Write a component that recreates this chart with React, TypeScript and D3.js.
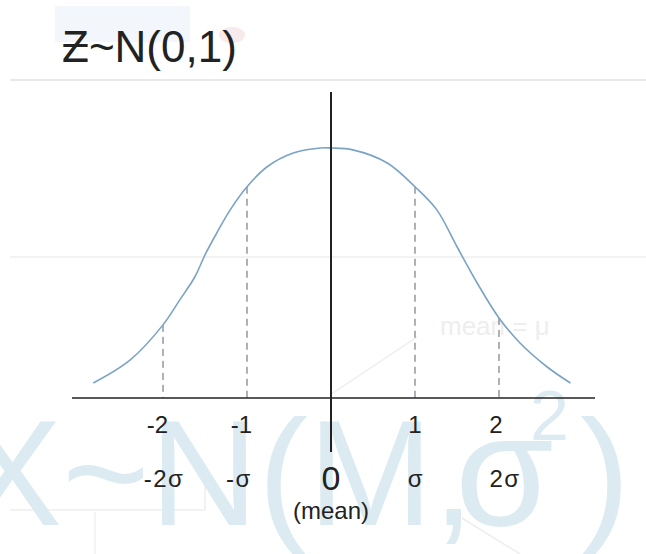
import React from "react";
import * as d3 from "d3";

// Standard normal curve: z positions and the curve height at each one
const CURVE_Z = [-2.83, -2.39, -2.0, -1.8, -1.62, -1.5, -1.36, -1.2, -1.0, -0.76, -0.45, -0.13, 0, 0.26, 0.67, 1.0, 1.26, 1.5, 1.74, 2.0, 2.25, 2.57, 2.85];
const CURVE_P = [0.024, 0.061, 0.117, 0.157, 0.194, 0.229, 0.264, 0.301, 0.338, 0.37, 0.392, 0.4, 0.4, 0.397, 0.376, 0.338, 0.301, 0.242, 0.184, 0.128, 0.088, 0.05, 0.024];

// Marked standard deviations
const TICKS = [-2, -1, 1, 2];
const TICK_LABELS = ["-2", "-1", "1", "2"];
const SIGMA_LABELS = ["-2σ", "-σ", "σ", "2σ"];
const CENTER_LABEL = "0";
const CENTER_NOTE = "(mean)";
const TITLE = "Ƶ~N(0,1)";

const W = 646;
const H = 554;
const FONT = "'Liberation Sans', Arial, Helvetica, sans-serif";

export default function App() {
  const x = d3.scaleLinear().domain([-2, 2]).range([163, 499]);
  const y = d3.scaleLinear().domain([0, 0.4]).range([398, 148]);

  const pts: [number, number][] = CURVE_Z.map((z, i) => [z, CURVE_P[i]]);
  const line = d3
    .line<[number, number]>()
    .x((d) => x(d[0]))
    .y((d) => y(d[1]))
    .curve(d3.curveCatmullRom.alpha(0.5));

  const x0 = x(0);
  const axisY = y(0);

  return (
    <svg
      width={W}
      height={H}
      viewBox={`0 0 ${W} ${H}`}
      style={{ position: "absolute", left: 0, top: 0, background: "#fff" }}
      fontFamily={FONT}
    >
      {/* faint slide backdrop */}
      <rect x={0} y={0} width={W} height={H} fill="#fff" />
      <rect x={55} y={6} width={135} height={36} fill="#f3f7fb" />
      <ellipse cx={232} cy={35} rx={13} ry={8} fill="#f8e9eb" />
      <line x1={10} x2={W} y1={80} y2={80} stroke="#e9e9e9" strokeWidth={2} />
      <line x1={10} x2={W} y1={257} y2={257} stroke="#efefef" strokeWidth={1.5} />
      <line x1={10} x2={205} y1={510} y2={510} stroke="#eeeeee" strokeWidth={1.5} />
      <line x1={205} x2={205} y1={480} y2={510} stroke="#eeeeee" strokeWidth={1.5} />
      <line x1={95} x2={95} y1={512} y2={H} stroke="#f0f0f0" strokeWidth={1.5} />
      <line x1={417} x2={330} y1={337} y2={395} stroke="#ededed" strokeWidth={1.5} />
      <line x1={462} x2={520} y1={518} y2={H} stroke="#ededed" strokeWidth={1.5} />
      <text x={440} y={335} fontSize={26} fill="#eeeeee">mean = μ</text>
      <g fill="#dcebf2" fontSize={150}>
        <text x={-38} y={525}>X~N(M,</text>
        <text x={455} y={525} fontSize={160}>σ</text>
        <text x={530} y={440} fontSize={70}>2</text>
        <text x={580} y={525}>)</text>
      </g>

      {/* title */}
      <text x={62} y={62} fontSize={44} fill="#222">{TITLE}</text>

      {/* dashed guides at ±1σ, ±2σ */}
      {TICKS.map((t) => {
        const i = CURVE_Z.indexOf(t);
        return (
          <line
            key={`d${t}`}
            x1={x(t)}
            x2={x(t)}
            y1={y(CURVE_P[i])}
            y2={axisY}
            stroke="#5a6470"
            strokeWidth={1}
            strokeDasharray="7,5"
          />
        );
      })}

      {/* density curve */}
      <path d={line(pts) ?? ""} fill="none" stroke="#7aa3c6" strokeWidth={1.6} />

      {/* axes */}
      <line x1={72} x2={595} y1={axisY} y2={axisY} stroke="#222" strokeWidth={1.6} />
      <line x1={x0} x2={x0} y1={92} y2={452} stroke="#222" strokeWidth={2} />

      {/* z labels */}
      {TICKS.map((t, i) => (
        <text
          key={`t${t}`}
          x={t < 0 ? x(t) + 5 : x(t) - (t === 2 ? 3 : 0)}
          y={433}
          fontSize={24}
          fill="#222"
          textAnchor={t < 0 ? "end" : "middle"}
        >
          {TICK_LABELS[i]}
        </text>
      ))}
      {TICKS.map((t, i) => (
        <text
          key={`s${t}`}
          x={x(t) + (t === -1 ? -8 : t === 2 ? 6 : 1)}
          y={487}
          fontSize={24}
          letterSpacing={1.5}
          fill="#222"
          textAnchor="middle"
        >
          {SIGMA_LABELS[i]}
        </text>
      ))}
      <text x={x0} y={490} fontSize={34} fill="#222" textAnchor="middle">{CENTER_LABEL}</text>
      <text x={x0} y={519} fontSize={24} fill="#222" textAnchor="middle">{CENTER_NOTE}</text>
    </svg>
  );
}
